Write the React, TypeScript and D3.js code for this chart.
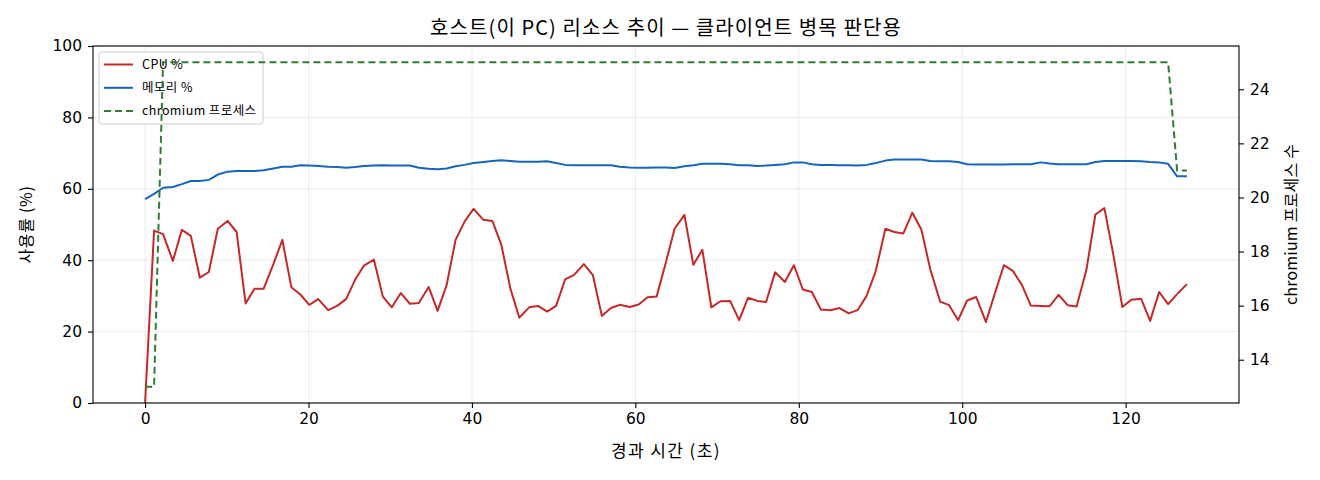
import { useEffect, useRef } from "react";
import * as d3 from "d3";

// elapsed seconds of each sample
const elapsed = [
  0, 1.1, 2.2, 3.4, 4.5, 5.6, 6.7, 7.8, 8.9, 10.1,
  11.2, 12.3, 13.4, 14.5, 15.7, 16.8, 17.9, 19.0, 20.1, 21.2,
  22.4, 23.5, 24.6, 25.7, 26.8, 28.0, 29.1, 30.2, 31.3, 32.4,
  33.5, 34.7, 35.8, 36.9, 38.0, 39.1, 40.2, 41.4, 42.5, 43.6,
  44.7, 45.8, 47.0, 48.1, 49.2, 50.3, 51.4, 52.5, 53.7, 54.8,
  55.9, 57.0, 58.1, 59.3, 60.4, 61.5, 62.6, 63.7, 64.8, 66.0,
  67.1, 68.2, 69.3, 70.4, 71.6, 72.7, 73.8, 74.9, 76.0, 77.1,
  78.3, 79.4, 80.5, 81.6, 82.7, 83.9, 85.0, 86.1, 87.2, 88.3,
  89.4, 90.6, 91.7, 92.8, 93.9, 95.0, 96.1, 97.3, 98.4, 99.5,
  100.6, 101.7, 102.9, 104.0, 105.1, 106.2, 107.3, 108.4, 109.6, 110.7,
  111.8, 112.9, 114.0, 115.2, 116.3, 117.4, 118.5, 119.6, 120.7, 121.9,
  123.0, 124.1, 125.2, 126.3, 127.5,
];

const cpuPct = [
  0, 48.3, 47.3, 39.8, 48.5, 46.8, 35.1, 36.7, 48.8, 51.0,
  47.9, 27.9, 32.0, 32.0, 38.9, 45.7, 32.4, 30.4, 27.5, 29.1,
  26.0, 27.2, 29.1, 34.5, 38.5, 40.2, 29.8, 26.8, 30.8, 27.8,
  28.0, 32.5, 25.8, 33.0, 45.7, 50.8, 54.4, 51.3, 51.0, 44.3,
  32.1, 23.9, 26.8, 27.2, 25.6, 27.2, 34.6, 35.9, 38.9, 35.8,
  24.4, 26.6, 27.5, 26.9, 27.6, 29.6, 29.8, 39.1, 48.8, 52.7,
  38.7, 42.9, 26.8, 28.5, 28.6, 23.2, 29.5, 28.6, 28.3, 36.6,
  33.9, 38.6, 31.8, 31.1, 26.2, 26.0, 26.6, 25.1, 26.0, 30.0,
  36.8, 48.8, 47.9, 47.5, 53.3, 48.6, 37.4, 28.4, 27.4, 23.2,
  28.7, 29.7, 22.7, 30.7, 38.6, 37.0, 33.1, 27.3, 27.2, 27.1,
  30.3, 27.4, 27.0, 37.3, 52.8, 54.6, 41.5, 26.9, 28.9, 29.2,
  23.0, 31.1, 27.7, 30.5, 33.3,
];

const memPct = [
  57.1, 58.6, 60.3, 60.5, 61.3, 62.2, 62.2, 62.5, 64.0, 64.8,
  65.0, 65.0, 65.0, 65.2, 65.7, 66.2, 66.2, 66.6, 66.5, 66.4,
  66.2, 66.1, 65.9, 66.1, 66.4, 66.5, 66.6, 66.5, 66.5, 66.5,
  65.9, 65.6, 65.5, 65.7, 66.3, 66.7, 67.2, 67.5, 67.8, 68.0,
  67.8, 67.6, 67.6, 67.6, 67.7, 67.2, 66.7, 66.6, 66.6, 66.6,
  66.6, 66.6, 66.2, 66.0, 65.9, 65.9, 66.0, 66.0, 65.8, 66.3,
  66.6, 67.0, 67.0, 67.0, 66.9, 66.6, 66.6, 66.4, 66.5, 66.7,
  66.9, 67.4, 67.4, 66.9, 66.7, 66.7, 66.6, 66.6, 66.5, 66.7,
  67.2, 67.9, 68.2, 68.2, 68.2, 68.2, 67.8, 67.7, 67.7, 67.5,
  66.9, 66.8, 66.8, 66.8, 66.8, 66.9, 66.9, 66.9, 67.4, 67.1,
  66.9, 66.9, 66.9, 66.9, 67.5, 67.8, 67.8, 67.8, 67.8, 67.7,
  67.5, 67.4, 67.0, 63.5, 63.5,
];

const chromiumProcs = [
  13, 13, 25, 25, 25, 25, 25, 25, 25, 25,
  25, 25, 25, 25, 25, 25, 25, 25, 25, 25,
  25, 25, 25, 25, 25, 25, 25, 25, 25, 25,
  25, 25, 25, 25, 25, 25, 25, 25, 25, 25,
  25, 25, 25, 25, 25, 25, 25, 25, 25, 25,
  25, 25, 25, 25, 25, 25, 25, 25, 25, 25,
  25, 25, 25, 25, 25, 25, 25, 25, 25, 25,
  25, 25, 25, 25, 25, 25, 25, 25, 25, 25,
  25, 25, 25, 25, 25, 25, 25, 25, 25, 25,
  25, 25, 25, 25, 25, 25, 25, 25, 25, 25,
  25, 25, 25, 25, 25, 25, 25, 25, 25, 25,
  25, 25, 25, 21, 21,
];

const xTicks = [0, 20, 40, 60, 80, 100, 120];
const yTicks = [0, 20, 40, 60, 80, 100];
const y2Ticks = [14, 16, 18, 20, 22, 24];

const TITLE = "호스트(이 PC) 리소스 추이 — 클라이언트 병목 판단용";
const legendItems = [
  { label: "CPU %", color: "#c62828", dash: null },
  { label: "메모리 %", color: "#1565c0", dash: null },
  { label: "chromium 프로세스", color: "#2e7d32", dash: "7,4" },
];

const KFONT = "'Noto Sans CJK KR', 'DejaVu Sans', sans-serif";
const NFONT = "'DejaVu Sans', 'Noto Sans CJK KR', sans-serif";

export default function App() {
  const svgRef = useRef<SVGSVGElement>(null);

  useEffect(() => {
    if (!svgRef.current) return;
    const svg = d3.select(svgRef.current);
    svg.selectAll("*").remove();

    const width = 1320;
    const height = 480;
    const left = 93;
    const right = 1239;
    const top = 46;
    const bottom = 403;

    svg.attr("width", width).attr("height", height);
    svg.append("rect").attr("width", width).attr("height", height).attr("fill", "#fff");

    const tMax = d3.max(elapsed) ?? 0;
    const pad = tMax * 0.05;
    const x = d3.scaleLinear().domain([-pad, tMax + pad]).range([left, right]);
    const y = d3.scaleLinear().domain([0, 100]).range([bottom, top]);
    const pMin = d3.min(chromiumProcs) ?? 0;
    const pMax = d3.max(chromiumProcs) ?? 0;
    const pPad = (pMax - pMin) * 0.05;
    const y2 = d3.scaleLinear().domain([pMin - pPad, pMax + pPad]).range([bottom, top]);

    // grid
    const grid = svg.append("g").attr("stroke", "#b0b0b0").attr("stroke-opacity", 0.3).attr("stroke-width", 0.8);
    grid.selectAll(".gx")
      .data(xTicks)
      .join("line")
      .attr("x1", (d) => x(d))
      .attr("x2", (d) => x(d))
      .attr("y1", top)
      .attr("y2", bottom);
    grid.selectAll(".gy")
      .data(yTicks)
      .join("line")
      .attr("x1", left)
      .attr("x2", right)
      .attr("y1", (d) => y(d))
      .attr("y2", (d) => y(d));

    const idx = d3.range(elapsed.length);

    const cpuLine = d3.line<number>().x((i) => x(elapsed[i])).y((i) => y(cpuPct[i]));
    const memLine = d3.line<number>().x((i) => x(elapsed[i])).y((i) => y(memPct[i]));
    const procLine = d3.line<number>().x((i) => x(elapsed[i])).y((i) => y2(chromiumProcs[i]));

    svg.append("path")
      .datum(idx)
      .attr("fill", "none")
      .attr("stroke", "#c62828")
      .attr("stroke-width", 2)
      .attr("stroke-linejoin", "round")
      .attr("d", cpuLine);

    svg.append("path")
      .datum(idx)
      .attr("fill", "none")
      .attr("stroke", "#1565c0")
      .attr("stroke-width", 2)
      .attr("stroke-linejoin", "round")
      .attr("d", memLine);

    // legend (belongs to left axes, twin line is drawn over it)
    const lg = svg.append("g").attr("transform", "translate(99,52)");
    lg.append("rect")
      .attr("width", 164)
      .attr("height", 72)
      .attr("rx", 3)
      .attr("fill", "#fff")
      .attr("fill-opacity", 0.8)
      .attr("stroke", "#cccccc")
      .attr("stroke-width", 1);
    legendItems.forEach((it, k) => {
      const cy = 12.5 + k * 23.3;
      lg.append("line")
        .attr("x1", 5)
        .attr("x2", 34)
        .attr("y1", cy)
        .attr("y2", cy)
        .attr("stroke", it.color)
        .attr("stroke-width", 2)
        .attr("stroke-dasharray", it.dash);
      lg.append("text")
        .attr("x", 43)
        .attr("y", cy)
        .attr("dy", "0.35em")
        .attr("font-family", KFONT)
        .attr("font-size", 12.5)
        .attr("letter-spacing", 0.4)
        .attr("fill", "#000")
        .text(it.label);
    });

    svg.append("path")
      .datum(idx)
      .attr("fill", "none")
      .attr("stroke", "#2e7d32")
      .attr("stroke-width", 2)
      .attr("stroke-dasharray", "7,4")
      .attr("d", procLine);

    // frame
    svg.append("rect")
      .attr("x", left)
      .attr("y", top)
      .attr("width", right - left)
      .attr("height", bottom - top)
      .attr("fill", "none")
      .attr("stroke", "#000")
      .attr("stroke-width", 1.1);

    const styleAxis = (g: d3.Selection<SVGGElement, unknown, null, undefined>) => {
      g.select(".domain").remove();
      g.selectAll("line").attr("stroke", "#000").attr("stroke-width", 1.1);
      g.selectAll("text").attr("font-family", NFONT).attr("font-size", 15.5).attr("fill", "#000");
    };

    svg.append("g")
      .attr("transform", `translate(0,${bottom})`)
      .call(d3.axisBottom(x).tickValues(xTicks).tickSize(5).tickPadding(5).tickFormat(d3.format("d")))
      .call(styleAxis);

    svg.append("g")
      .attr("transform", `translate(${left},0)`)
      .call(d3.axisLeft(y).tickValues(yTicks).tickSize(5).tickPadding(6).tickFormat(d3.format("d")))
      .call(styleAxis);

    svg.append("g")
      .attr("transform", `translate(${right},0)`)
      .call(d3.axisRight(y2).tickValues(y2Ticks).tickSize(5).tickPadding(6).tickFormat(d3.format("d")))
      .call(styleAxis);

    // labels
    svg.append("text")
      .attr("x", (left + right) / 2)
      .attr("y", 35)
      .attr("text-anchor", "middle")
      .attr("font-family", KFONT)
      .attr("font-size", 20)
      .attr("letter-spacing", 1.1)
      .attr("fill", "#000")
      .text(TITLE);

    svg.append("text")
      .attr("x", (left + right) / 2)
      .attr("y", 457)
      .attr("text-anchor", "middle")
      .attr("font-family", KFONT)
      .attr("font-size", 17)
      .attr("letter-spacing", 1.4)
      .attr("fill", "#000")
      .text("경과 시간 (초)");

    svg.append("text")
      .attr("transform", `translate(32,${(top + bottom) / 2}) rotate(-90)`)
      .attr("text-anchor", "middle")
      .attr("font-family", KFONT)
      .attr("font-size", 16)
      .attr("letter-spacing", 0.7)
      .attr("fill", "#000")
      .text("사용률 (%)");

    svg.append("text")
      .attr("transform", `translate(1297,${(top + bottom) / 2}) rotate(-90)`)
      .attr("text-anchor", "middle")
      .attr("font-family", KFONT)
      .attr("font-size", 16)
      .attr("letter-spacing", 0.2)
      .attr("fill", "#000")
      .text("chromium 프로세스 수");
  }, []);

  return (
    <div style={{ position: "absolute", left: 0, top: 0 }}>
      <svg ref={svgRef} style={{ display: "block" }} />
    </div>
  );
}
